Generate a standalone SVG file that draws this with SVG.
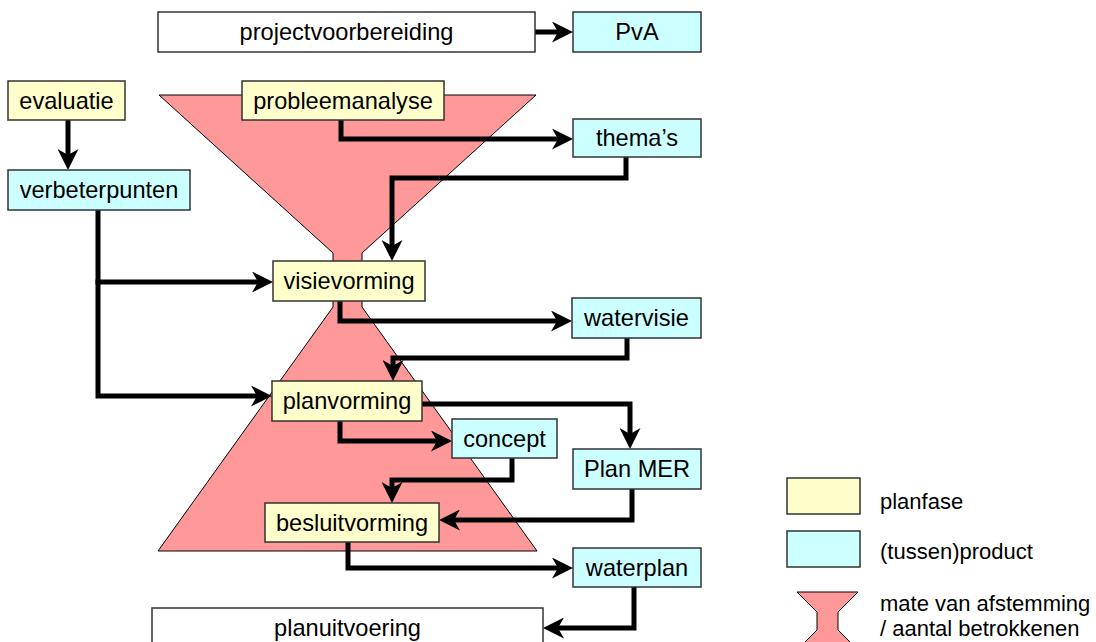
<svg xmlns="http://www.w3.org/2000/svg" width="1096" height="642" viewBox="0 0 1096 642">
<style>
.box{stroke:#333;stroke-width:1.5}
.phase{fill:#FFFFCC}
.prod{fill:#CCFFFF}
.plain{fill:#FFFFFF}
text{font-family:"Liberation Sans",Arial,sans-serif;fill:#000}
.t{font-size:23.6px;text-anchor:middle}
.lg{font-size:22px}
.conn path{fill:none;stroke:#000;stroke-width:5;stroke-linejoin:miter;stroke-linecap:square;marker-end:url(#arr)}
.hg{fill:#FF9999;stroke:#000;stroke-width:1}
</style>
<defs>
<marker id="arr" markerUnits="userSpaceOnUse" viewBox="0 0 21 21" markerWidth="21" markerHeight="21" refX="11" refY="10.5" orient="auto">
<path d="M0,0 L21,10.5 L0,21 L6,10.5 z" fill="#000"/>
</marker>
</defs>
<rect width="1096" height="642" fill="#fff"/>
<g id="hourglass">
<polygon class="hg" points="159,95 536,95 362,253 362,307 537,551 158,551 333,307 333,253"/>
</g>
<g id="connectors" class="conn">
<path d="M535,32 H563"/>
<path d="M68,122 V160"/>
<path d="M341,120 V139 H563"/>
<path d="M626,157 V178 H392 V251"/>
<path d="M98,210 V282 H263"/>
<path d="M98,282 V396 H262"/>
<path d="M340,301 V321 H562"/>
<path d="M627,338 V358 H393 V371"/>
<path d="M340,421 V441 H442"/>
<path d="M422,404 H630 V439"/>
<path d="M512,458 V480 H392 V493"/>
<path d="M632,489 V520 H449"/>
<path d="M348,542 V568 H563"/>
<path d="M634,587 V628 H553"/>
</g>
<g id="n-projectvoorbereiding"><rect class="box plain" x="158" y="12" width="377" height="40"/><text class="t" x="346.5" y="40">projectvoorbereiding</text></g>
<g id="n-pva"><rect class="box prod" x="573" y="12" width="128" height="40"/><text class="t" x="637" y="40">PvA</text></g>
<g id="n-evaluatie"><rect class="box phase" x="8" y="81" width="117" height="39"/><text class="t" x="66.5" y="108.5">evaluatie</text></g>
<g id="n-probleemanalyse"><rect class="box phase" x="242" y="81" width="202" height="39"/><text class="t" x="343" y="108.5">probleemanalyse</text></g>
<g id="n-themas"><rect class="box prod" x="573" y="119" width="128" height="38"/><text class="t" x="637" y="146">thema’s</text></g>
<g id="n-verbeterpunten"><rect class="box prod" x="8" y="170" width="182" height="40"/><text class="t" x="99" y="198">verbeterpunten</text></g>
<g id="n-visievorming"><rect class="box phase" x="273" y="261" width="152" height="40"/><text class="t" x="349" y="289">visievorming</text></g>
<g id="n-watervisie"><rect class="box prod" x="572" y="298" width="129" height="40"/><text class="t" x="636.5" y="326">watervisie</text></g>
<g id="n-planvorming"><rect class="box phase" x="272" y="381" width="150" height="40"/><text class="t" x="347" y="409">planvorming</text></g>
<g id="n-concept"><rect class="box prod" x="452" y="419" width="105" height="39"/><text class="t" x="504.5" y="446.5">concept</text></g>
<g id="n-planmer"><rect class="box prod" x="573" y="449" width="128" height="40"/><text class="t" x="637" y="477">Plan MER</text></g>
<g id="n-besluitvorming"><rect class="box phase" x="265" y="503" width="174" height="39"/><text class="t" x="352" y="530.5">besluitvorming</text></g>
<g id="n-waterplan"><rect class="box prod" x="573" y="548" width="128" height="39"/><text class="t" x="637" y="575.5">waterplan</text></g>
<g id="n-planuitvoering"><rect class="box plain" x="152" y="608" width="391" height="50"/><text class="t" x="347.5" y="636">planuitvoering</text></g>
<g id="legend">
<rect class="box phase" x="787" y="478" width="73" height="36"/>
<text class="lg" x="880" y="509">planfase</text>
<rect class="box prod" x="787" y="531" width="73" height="36"/>
<text class="lg" x="880" y="559">(tussen)product</text>
<polygon class="hg" points="797,592 858,592 838,612 838,630 860,652 795,652 817,630 817,612"/>
<text class="lg" x="880" y="611">mate van afstemming</text>
<text class="lg" x="880" y="636">/ aantal betrokkenen</text>
</g>
</svg>
